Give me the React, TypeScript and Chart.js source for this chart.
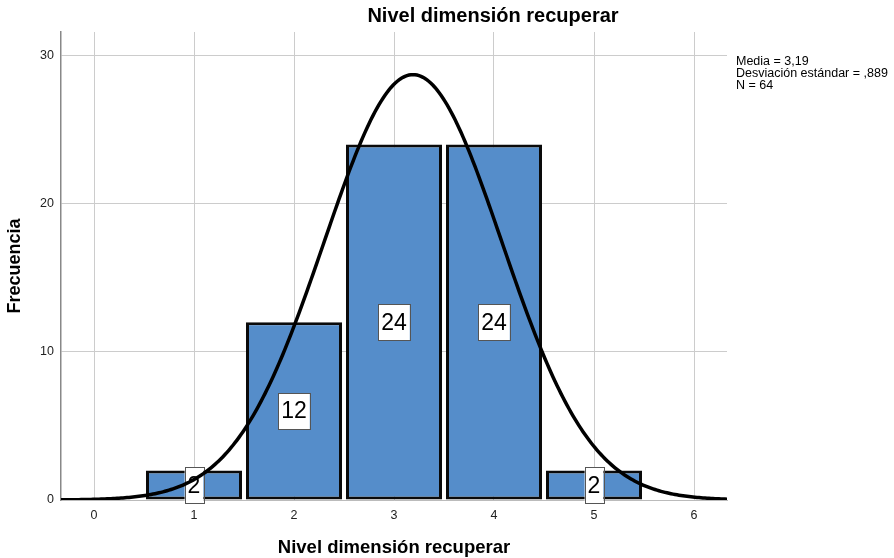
import React, { useEffect, useRef } from "react";
import { Chart, registerables } from "chart.js";

Chart.register(...registerables);

const categories = [1, 2, 3, 4, 5];
const frequencies = [2, 12, 24, 24, 2];
const xTicks = [0, 1, 2, 3, 4, 5, 6];
const yTicks = [0, 10, 20, 30];
const mean = 3.19;
const stdDev = 0.889;
const nTotal = 64;
const binWidth = 1;
const titleText = "Nivel dimensión recuperar";
const xTitle = "Nivel dimensión recuperar";
const yTitle = "Frecuencia";
const statsLines = ["Media = 3,19", "Desviación estándar = ,889", "N = 64"];

const X_MIN = -0.33;
const X_MAX = 6.33;
const Y_MAX = 31.6;
const FONT = "'Liberation Sans', Arial, sans-serif";

function normalCurve() {
  const pts: { x: number; y: number }[] = [];
  const steps = 333;
  for (let i = 0; i <= steps; i++) {
    const x = X_MIN + ((X_MAX - X_MIN) * i) / steps;
    const z = (x - mean) / stdDev;
    const y = (nTotal * binWidth * Math.exp(-0.5 * z * z)) / (stdDev * Math.sqrt(2 * Math.PI));
    pts.push({ x, y });
  }
  return pts;
}

const labelPlugin = {
  id: "barLabels",
  afterDatasetDraw(chart: any, args: any) {
    if (args.index !== 0) return;
    const ctx = chart.ctx;
    const xs = chart.scales.x;
    const ys = chart.scales.y;
    ctx.save();
    ctx.font = `23px ${FONT}`;
    ctx.textAlign = "center";
    ctx.textBaseline = "middle";
    categories.forEach((c, i) => {
      const v = frequencies[i];
      const txt = String(v);
      const cx = xs.getPixelForValue(c);
      const cy = ys.getPixelForValue(v / 2);
      const w = ctx.measureText(txt).width + 6;
      const h = 36;
      ctx.fillStyle = "#ffffff";
      ctx.fillRect(cx - w / 2, cy - h / 2, w, h);
      ctx.strokeStyle = "#555555";
      ctx.lineWidth = 1;
      ctx.strokeRect(Math.round(cx - w / 2) + 0.5, Math.round(cy - h / 2) + 0.5, Math.round(w), h);
      ctx.fillStyle = "#000000";
      ctx.fillText(txt, cx, cy + 1);
    });
    ctx.restore();
  },
  afterDraw(chart: any) {
    const ctx = chart.ctx;
    const area = chart.chartArea;
    ctx.save();
    ctx.fillStyle = "#000000";
    ctx.textAlign = "center";
    ctx.textBaseline = "middle";
    ctx.font = `bold 20px ${FONT}`;
    ctx.fillText(titleText, 493, 16);
    ctx.font = `bold 18.5px ${FONT}`;
    ctx.fillText(xTitle, (area.left + area.right) / 2, 548);
    ctx.save();
    ctx.translate(15, 266);
    ctx.rotate(-Math.PI / 2);
    ctx.font = `bold 18px ${FONT}`;
    ctx.fillText(yTitle, 0, 0);
    ctx.restore();
    ctx.font = `12.5px ${FONT}`;
    ctx.textAlign = "left";
    statsLines.forEach((l, i) => ctx.fillText(l, 736, 62 + i * 12));
    ctx.restore();
  },
};

export default function App() {
  const ref = useRef<HTMLCanvasElement>(null);
  useEffect(() => {
    if (!ref.current) return;
    const chart = new Chart(ref.current, {
      type: "bar",
      data: {
        datasets: [
          {
            type: "bar",
            data: categories.map((c, i) => ({ x: c, y: frequencies[i] })),
            backgroundColor: "#558dca",
            borderColor: "#0a0a0a",
            borderWidth: 3,
            borderSkipped: false,
            barPercentage: 0.96,
            categoryPercentage: 1,
            order: 2,
          } as any,
          {
            type: "line",
            data: normalCurve(),
            borderColor: "#000000",
            borderWidth: 3.5,
            pointRadius: 0,
            tension: 0,
            fill: false,
            order: 1,
          } as any,
        ],
      },
      options: {
        responsive: false,
        animation: false,
        layout: { padding: { left: 0, top: 32, right: 167, bottom: 0 } },
        plugins: { legend: { display: false }, tooltip: { enabled: false }, title: { display: false } },
        scales: {
          x: {
            type: "linear",
            min: X_MIN,
            max: X_MAX,
            offset: false,
            afterFit: (s: any) => {
              s.height = 58;
            },
            afterBuildTicks: (s: any) => {
              s.ticks = xTicks.map((v) => ({ value: v }));
            },
            ticks: {
              padding: 8,
              color: "#222222",
              font: { family: FONT, size: 12.5 },
              callback: (v: any) => String(v),
            },
            grid: { color: "#cccccc", lineWidth: 1, drawTicks: false, offset: false },
            border: { color: "#bbbbbb", width: 1 },
          },
          y: {
            type: "linear",
            min: 0,
            max: Y_MAX,
            afterFit: (s: any) => {
              s.width = 61;
            },
            afterBuildTicks: (s: any) => {
              s.ticks = yTicks.map((v) => ({ value: v }));
            },
            ticks: {
              padding: 7,
              color: "#222222",
              font: { family: FONT, size: 12.5 },
              callback: (v: any) => String(v),
            },
            grid: { color: "#cccccc", lineWidth: 1, drawTicks: false },
            border: { color: "#888888", width: 1.5 },
          },
        },
      },
      plugins: [labelPlugin],
    } as any);
    return () => chart.destroy();
  }, []);
  return (
    <div style={{ position: "absolute", left: 0, top: 0, width: 894, height: 558, background: "#fff" }}>
      <canvas ref={ref} width={894} height={558} style={{ display: "block" }} />
    </div>
  );
}
